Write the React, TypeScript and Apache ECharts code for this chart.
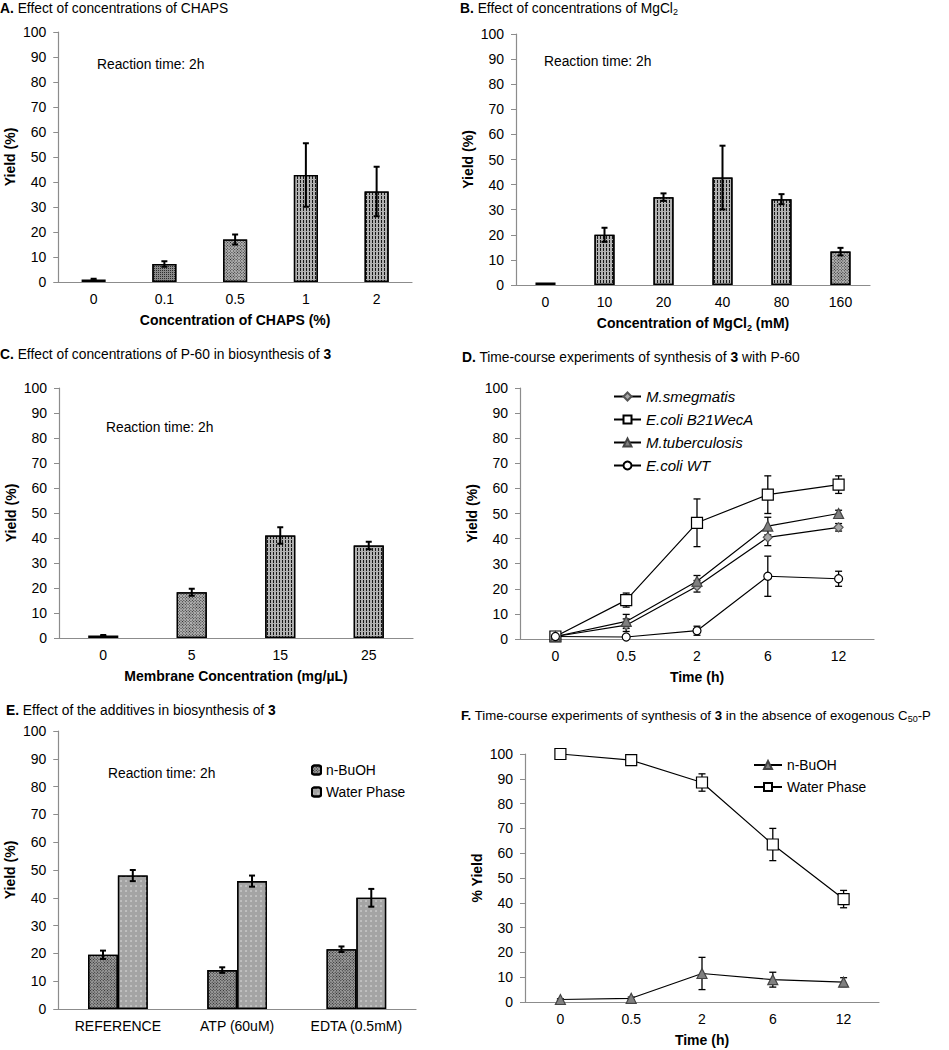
import React, { useEffect, useRef } from 'react';
import * as echarts from 'echarts';

const FONT = '"Liberation Sans", Arial, sans-serif';

// ---------- Panel A ----------
const catsA = ['0', '0.1', '0.5', '1', '2'];
const yieldA = [1, 7.2, 17, 42.8, 36.2];
const errA = [0.3, 1.1, 2, 12.7, 9.9];

// ---------- Panel B ----------
const catsB = ['0', '10', '20', '40', '80', '160'];
const yieldB = [1, 20, 35, 42.8, 34.2, 13.3];
const errB = [0, 2.8, 1.5, 12.7, 2, 1.5];

// ---------- Panel C ----------
const catsC = ['0', '5', '15', '25'];
const yieldC = [1, 18.3, 41, 37];
const errC = [0.2, 1.4, 3.3, 1.5];

// ---------- Panel D ----------
const timeCats = ['0', '0.5', '2', '6', '12'];
const smeg = [1, 5.5, 21, 40.5, 44.5];
const smegErr = [0.5, 2.5, 2.3, 3.3, 1.5];
const b21 = [1, 15.5, 46.3, 57.5, 61.5];
const b21Err = [0.5, 2.8, 9.5, 7.5, 3.5];
const tb = [1, 7, 23, 45, 50];
const tbErr = [0.5, 2.8, 2.3, 3.5, 1.3];
const wt = [1, 0.8, 3.3, 25, 24];
const wtErr = [0.3, 0.3, 1.8, 8, 3];

// ---------- Panel E ----------
const catsE = ['REFERENCE', 'ATP (60uM)', 'EDTA (0.5mM)'];
const buohE = [19.5, 14, 21.5];
const buohEErr = [1.5, 1, 1];
const waterE = [48, 46, 40];
const waterEErr = [2, 2, 3.2];

// ---------- Panel F ----------
const buohF = [1, 1.5, 11.5, 9, 8];
const buohFErr = [0.3, 0.5, 6.5, 3, 1.8];
const waterF = [100, 97.5, 88.5, 63.5, 41.5];
const waterFErr = [0.5, 1.5, 3.5, 6.5, 3.5];

// ---------- styles ----------
const patA = ['solid', 'fine', 'check', 'stripe', 'stripe'];
const patB = ['solid', 'stripe', 'stripe', 'stripe', 'stripe', 'check'];
const patC = ['solid', 'check', 'stripe', 'stripe'];

const decals: Record<string, any> = {
  solid: null,
  fine: { symbol: 'rect', symbolSize: 1, color: 'rgba(20,20,20,0.8)', dashArrayX: [1, 1], dashArrayY: [1, 1] },
  check: { symbol: 'rect', symbolSize: 1, color: 'rgba(20,20,20,0.9)', dashArrayX: [1, 1], dashArrayY: [1, 1], rotation: Math.PI / 4 },
  stripe: { symbol: 'rect', symbolSize: 1, color: 'rgba(15,15,15,0.95)', dashArrayX: [1, 2], dashArrayY: [3, 1] },
  dots: { symbol: 'circle', symbolSize: 0.7, color: 'rgba(235,235,235,0.95)', dashArrayX: [2, 3], dashArrayY: [2, 3] },
};
const baseColors: Record<string, string> = {
  solid: '#5e5e5e',
  fine: '#8a8a8a',
  check: '#b4b4b4',
  stripe: '#b0b0b0',
};

function barData(vals: number[], pats: string[]) {
  return vals.map((v, i) => ({
    value: v,
    itemStyle: {
      color: baseColors[pats[i]],
      borderColor: '#000',
      borderWidth: 1.3,
      decal: decals[pats[i]] || undefined,
    },
  }));
}

function errSeries(axis: number, vals: number[], errs: number[], offsetFrac: number, lw: number, cap: number) {
  return {
    type: 'custom',
    xAxisIndex: axis,
    yAxisIndex: axis,
    silent: true,
    z: 5,
    data: vals.map((v, i) => [i, v - errs[i], v + errs[i]]),
    encode: { x: 0, y: [1, 2] },
    renderItem: (params: any, api: any) => {
      const xi = api.value(0);
      const lo = api.coord([xi, api.value(1)]);
      const hi = api.coord([xi, api.value(2)]);
      if (Math.abs(hi[1] - lo[1]) < 0.5) return null;
      const band = api.size([1, 0])[0];
      const cx = lo[0] + offsetFrac * band;
      const st = { stroke: '#000', lineWidth: lw };
      return {
        type: 'group',
        children: [
          { type: 'line', shape: { x1: cx, y1: hi[1], x2: cx, y2: lo[1] }, style: st },
          { type: 'line', shape: { x1: cx - cap, y1: hi[1], x2: cx + cap, y2: hi[1] }, style: st },
          { type: 'line', shape: { x1: cx - cap, y1: lo[1], x2: cx + cap, y2: lo[1] }, style: st },
        ],
      };
    },
  };
}

const grids = [
  { left: 58, top: 32, width: 354, height: 250 },
  { left: 516, top: 34, width: 354, height: 251 },
  { left: 59, top: 388, width: 354, height: 250 },
  { left: 520, top: 388, width: 354, height: 251 },
  { left: 58, top: 731, width: 358, height: 278 },
  { left: 525, top: 754, width: 354, height: 250 },
];

const nameStyle = {
  fontWeight: 'bold',
  fontSize: 14,
  color: '#000',
  fontFamily: FONT,
  lineHeight: 18,
  rich: {
    sub: { fontSize: 9, fontWeight: 'bold', fontFamily: FONT, verticalAlign: 'bottom', lineHeight: 12 },
  },
};

function xAxis(idx: number, cats: string[], name: string) {
  return {
    type: 'category',
    gridIndex: idx,
    data: cats,
    boundaryGap: true,
    axisLine: { lineStyle: { color: '#8c8c8c', width: 1.2 } },
    axisTick: { show: false },
    axisLabel: { fontSize: 14, color: '#000', fontFamily: FONT, margin: 10, interval: 0 },
    name,
    nameLocation: 'middle',
    nameGap: 29,
    nameTextStyle: nameStyle,
  };
}

function yAxis(idx: number, name: string) {
  return {
    type: 'value',
    gridIndex: idx,
    min: 0,
    max: 100,
    interval: 10,
    axisLine: { show: true, lineStyle: { color: '#8c8c8c', width: 1.2 } },
    axisTick: { show: true, length: 5, lineStyle: { color: '#8c8c8c' } },
    splitLine: { show: false },
    axisLabel: { fontSize: 14, color: '#000', fontFamily: FONT, margin: 12 },
    name,
    nameLocation: 'middle',
    nameGap: 38,
    nameTextStyle: nameStyle,
  };
}

function titleRich(fs: number) {
  return {
    b: { fontWeight: 'bold', fontSize: fs, fontFamily: FONT, color: '#000', lineHeight: 16 },
    sub: { fontSize: 9, fontFamily: FONT, color: '#000', verticalAlign: 'bottom', lineHeight: 11 },
  };
}
function title(text: string, left: number, top: number, fs = 13.8) {
  return {
    text,
    left,
    top,
    padding: 0,
    textStyle: { fontSize: fs, fontWeight: 'normal', fontFamily: FONT, color: '#000', lineHeight: 16, rich: titleRich(fs) },
  };
}

function reaction(x: number, y: number) {
  return {
    type: 'text',
    x,
    y,
    style: { text: 'Reaction time: 2h', fontSize: 13.8, fontFamily: FONT, fill: '#000', verticalAlign: 'middle' },
  };
}

function lineSeries(axis: number, name: string, data: number[], symbol: string, size: number, fill: string, border: string) {
  return {
    type: 'line',
    name,
    xAxisIndex: axis,
    yAxisIndex: axis,
    data,
    symbol,
    symbolSize: size,
    z: 6,
    lineStyle: { color: '#000', width: 1.2 },
    itemStyle: { color: fill, borderColor: border, borderWidth: 1.2 },
  };
}

export default function App() {
  const ref = useRef<HTMLDivElement>(null);
  useEffect(() => {
    if (!ref.current) return;
    document.body.style.margin = '0';
    const chart = echarts.init(ref.current, undefined, { renderer: 'svg' });
    const option: any = {
      animation: false,
      backgroundColor: '#fff',
      title: [
        title('{b|A.} Effect of concentrations of CHAPS', 0, 0),
        title('{b|B.} Effect of concentrations of MgCl{sub|2}', 460, 0),
        title('{b|C.} Effect of concentrations of P-60 in biosynthesis of {b|3}', 0, 346),
        title('{b|D.} Time-course experiments of synthesis of {b|3} with P-60', 462, 349),
        title('{b|E.} Effect of the additives in biosynthesis of {b|3}', 6, 702),
        title('{b|F.} Time-course experiments of synthesis of {b|3} in the absence of exogenous C{sub|50}-P', 461, 707, 13.2),
      ],
      grid: grids,
      xAxis: [
        xAxis(0, catsA, 'Concentration of CHAPS (%)'),
        xAxis(1, catsB, 'Concentration of MgCl{sub|2} (mM)'),
        xAxis(2, catsC, 'Membrane Concentration (mg/µL)'),
        xAxis(3, timeCats, 'Time (h)'),
        { ...xAxis(4, catsE, ''), name: '' },
        xAxis(5, timeCats, 'Time (h)'),
      ],
      yAxis: [
        yAxis(0, 'Yield (%)'),
        yAxis(1, 'Yield (%)'),
        yAxis(2, 'Yield (%)'),
        yAxis(3, 'Yield (%)'),
        yAxis(4, 'Yield (%)'),
        yAxis(5, '% Yield'),
      ],
      legend: [
        {
          data: ['M.smegmatis', 'E.coli B21WecA', 'M.tuberculosis', 'E.coli WT'],
          orient: 'vertical',
          left: 613,
          top: 389,
          padding: 0,
          itemWidth: 27,
          itemHeight: 10,
          itemGap: 8,
          textStyle: { fontSize: 15, fontStyle: 'italic', fontFamily: FONT, color: '#000' },
        },
        {
          data: ['n-BuOH', 'Water Phase'],
          orient: 'vertical',
          left: 311,
          top: 763,
          padding: 0,
          itemWidth: 9,
          itemHeight: 9,
          itemGap: 8,
          textStyle: { fontSize: 13.8, fontFamily: FONT, color: '#000' },
        },
        {
          data: ['n-BuOH ', 'Water Phase '],
          orient: 'vertical',
          left: 753,
          top: 758,
          padding: 0,
          itemWidth: 28,
          itemHeight: 10,
          itemGap: 8,
          textStyle: { fontSize: 13.8, fontFamily: FONT, color: '#000' },
        },
      ],
      graphic: [reaction(97, 64), reaction(544, 61), reaction(106, 427), reaction(108, 773)],
      series: [
        { type: 'bar', xAxisIndex: 0, yAxisIndex: 0, barWidth: '34%', data: barData(yieldA, patA) },
        errSeries(0, yieldA, errA, 0, 2, 3),
        { type: 'bar', xAxisIndex: 1, yAxisIndex: 1, barWidth: '34%', data: barData(yieldB, patB) },
        errSeries(1, yieldB, errB, 0, 2, 3),
        { type: 'bar', xAxisIndex: 2, yAxisIndex: 2, barWidth: '34%', data: barData(yieldC, patC) },
        errSeries(2, yieldC, errC, 0, 2, 3),

        errSeries(3, smeg, smegErr, 0, 1.3, 3.5),
        errSeries(3, b21, b21Err, 0, 1.3, 3.5),
        errSeries(3, tb, tbErr, 0, 1.3, 3.5),
        errSeries(3, wt, wtErr, 0, 1.3, 3.5),
        lineSeries(3, 'M.smegmatis', smeg, 'diamond', 9, '#a8a8a8', '#555'),
        lineSeries(3, 'E.coli B21WecA', b21, 'rect', 11, '#fff', '#000'),
        lineSeries(3, 'M.tuberculosis', tb, 'triangle', 10, '#808080', '#444'),
        lineSeries(3, 'E.coli WT', wt, 'circle', 8, '#fff', '#000'),

        {
          type: 'bar',
          name: 'n-BuOH',
          xAxisIndex: 4,
          yAxisIndex: 4,
          barWidth: '25%',
          barGap: '0%',
          data: buohE,
          itemStyle: { color: '#9c9c9c', borderColor: '#000', borderWidth: 1.3, decal: decals.check },
        },
        {
          type: 'bar',
          name: 'Water Phase',
          xAxisIndex: 4,
          yAxisIndex: 4,
          barWidth: '25%',
          barGap: '0%',
          data: waterE,
          itemStyle: { color: '#a4a4a4', borderColor: '#000', borderWidth: 1.3, decal: decals.dots },
        },
        errSeries(4, buohE, buohEErr, -0.125, 2, 3),
        errSeries(4, waterE, waterEErr, 0.125, 2, 3),

        errSeries(5, buohF, buohFErr, 0, 1.3, 3.5),
        errSeries(5, waterF, waterFErr, 0, 1.3, 3.5),
        lineSeries(5, 'n-BuOH ', buohF, 'triangle', 10, '#808080', '#444'),
        lineSeries(5, 'Water Phase ', waterF, 'rect', 11, '#fff', '#000'),
      ],
    };
    chart.setOption(option);
    return () => chart.dispose();
  }, []);
  return <div ref={ref} style={{ position: 'absolute', left: 0, top: 0, width: 949, height: 1050 }} />;
}
